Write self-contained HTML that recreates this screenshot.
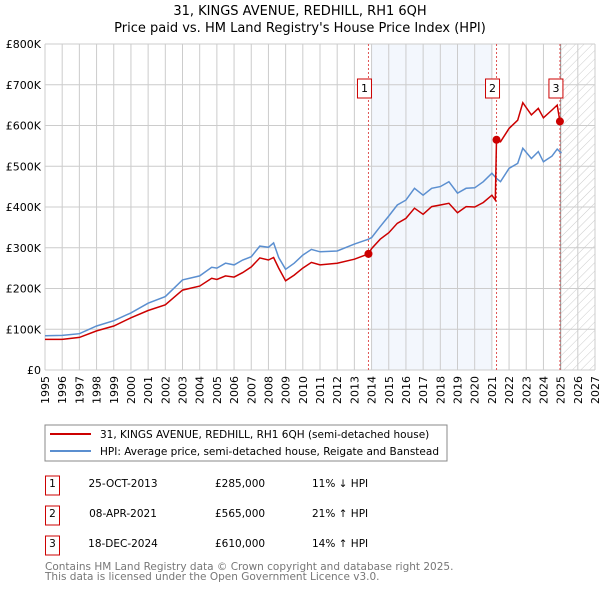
<!DOCTYPE html>
<html><head><meta charset="utf-8"><style>
body{margin:0;background:#fff;width:600px;height:590px;overflow:hidden;font-family:"DejaVu Sans","Liberation Sans",sans-serif}
</style></head><body>
<svg id="c" width="600" height="590" xmlns="http://www.w3.org/2000/svg" font-family="DejaVu Sans, Liberation Sans, sans-serif">
<defs><pattern id="h" width="6" height="6" patternUnits="userSpaceOnUse" patternTransform="rotate(45)"><line x1="0" y1="0" x2="0" y2="6" stroke="#ccc" stroke-width="1"/></pattern></defs>
<text x="300" y="15" text-anchor="middle" font-size="13">31, KINGS AVENUE, REDHILL, RH1 6QH</text>
<text x="300" y="32" text-anchor="middle" font-size="13">Price paid vs. HM Land Registry's House Price Index (HPI)</text>
<g id="plot"></g>
<rect x="45" y="425" width="402" height="36" fill="#fff" stroke="#888"/>
<line x1="50" y1="434" x2="91" y2="434" stroke="#cc0000" stroke-width="2"/>
<text x="100" y="438" font-size="10.5">31, KINGS AVENUE, REDHILL, RH1 6QH (semi-detached house)</text>
<line x1="50" y1="451" x2="91" y2="451" stroke="#5b8fd0" stroke-width="2"/>
<text x="100" y="455" font-size="10.5">HPI: Average price, semi-detached house, Reigate and Banstead</text>
<g font-size="10.5">
<rect x="45.5" y="476" width="14" height="19" fill="none" stroke="#cc0000"/><text x="52.5" y="487" text-anchor="middle">1</text>
<text x="123" y="487" text-anchor="middle">25-OCT-2013</text><text x="215" y="487">£285,000</text><text x="312" y="487">11% ↓ HPI</text>
<rect x="45.5" y="506" width="14" height="19" fill="none" stroke="#cc0000"/><text x="52.5" y="517" text-anchor="middle">2</text>
<text x="123" y="517" text-anchor="middle">08-APR-2021</text><text x="215" y="517">£565,000</text><text x="312" y="517">21% ↑ HPI</text>
<rect x="45.5" y="536" width="14" height="19" fill="none" stroke="#cc0000"/><text x="52.5" y="547" text-anchor="middle">3</text>
<text x="123" y="547" text-anchor="middle">18-DEC-2024</text><text x="215" y="547">£610,000</text><text x="312" y="547">14% ↑ HPI</text>
</g>
<text x="45" y="570" font-size="10.5" fill="#777">Contains HM Land Registry data © Crown copyright and database right 2025.</text>
<text x="45" y="580" font-size="10.5" fill="#777">This data is licensed under the Open Government Licence v3.0.</text>
</svg>
<script>
const yearTicks=[1995,1996,1997,1998,1999,2000,2001,2002,2003,2004,2005,2006,2007,2008,2009,2010,2011,2012,2013,2014,2015,2016,2017,2018,2019,2020,2021,2022,2023,2024,2025,2026,2027];
const valueTicks=[0,100000,200000,300000,400000,500000,600000,700000,800000];
const valueLabels=["£0","£100K","£200K","£300K","£400K","£500K","£600K","£700K","£800K"];
const hpiDates=[1995,1996,1997,1998,1999,2000,2001,2002,2003,2004,2004.7,2005,2005.5,2006,2006.5,2007,2007.5,2008,2008.3,2008.6,2009,2009.5,2010,2010.5,2011,2012,2013,2013.82,2014,2014.5,2015,2015.5,2016,2016.5,2017,2017.5,2018,2018.5,2019,2019.5,2020,2020.5,2021,2021.27,2021.5,2022,2022.5,2022.8,2023.3,2023.7,2024,2024.5,2024.8,2025.05];
const hpiValues=[84000,85000,89000,108000,121000,140000,164000,180000,221000,231000,252000,250000,262000,258000,270000,278000,304000,301000,312000,276000,247000,262000,282000,296000,290000,292000,309000,321000,325000,352000,378000,405000,417000,446000,429000,446000,450000,462000,434000,446000,447000,462000,483000,470000,462000,495000,507000,544000,519000,536000,511000,525000,542000,532000];
const priceDates=[1995,1996,1997,1998,1999,2000,2001,2002,2003,2004,2004.7,2005,2005.5,2006,2006.5,2007,2007.5,2008,2008.3,2008.6,2009,2009.5,2010,2010.5,2011,2012,2013,2013.82,2014,2014.5,2015,2015.5,2016,2016.5,2017,2017.5,2018,2018.5,2019,2019.5,2020,2020.5,2021,2021.2,2021.27,2021.5,2022,2022.5,2022.8,2023.3,2023.7,2024,2024.5,2024.8,2024.96,2025.05];
const priceValues=[75000,75000,80000,96000,108000,128000,146000,160000,196000,206000,225000,222000,231000,228000,239000,253000,275000,270000,276000,250000,219000,233000,250000,264000,258000,262000,272000,285000,298000,321000,337000,360000,372000,397000,382000,401000,405000,409000,386000,401000,400000,411000,429000,417000,565000,560000,593000,613000,656000,626000,642000,619000,638000,650000,610000,609000];
const saleDates=[2013.82,2021.27,2024.96];
const salePrices=[285000,565000,610000];
const saleLabels=["1","2","3"];
const NS="http://www.w3.org/2000/svg";
const L=45,R=595,T=44,B=370,x0=1995,x1=2027,vmax=800000;
const X=d=>L+(d-x0)/(x1-x0)*(R-L);
const Y=v=>B-v/vmax*(B-T);
const g=document.getElementById('plot');
function mk(t,a){const e=document.createElementNS(NS,t);for(const k in a)e.setAttribute(k,a[k]);g.appendChild(e);return e;}
let e;
e=mk('rect',{x:X(2014),y:T,width:X(2021)-X(2014),height:B-T,fill:'#eef3fc',opacity:0.7});


e=mk('rect',{x:X(2025),y:T,width:R-X(2025),height:B-T,fill:'url(#h)'});


yearTicks.forEach(yr=>{
 e=mk('line',{x1:X(yr),x2:X(yr),y1:T,y2:B,stroke:'#ccc','stroke-width':1});
 
 
 e=mk('text',{x:0,y:0,'font-size':11,'text-anchor':'end',transform:`translate(${X(yr)+4},${B+6}) rotate(-90)`});
 e.textContent=yr;
 
 
});
valueTicks.forEach((v,i)=>{
 e=mk('line',{x1:L,x2:R,y1:Y(v),y2:Y(v),stroke:'#ccc','stroke-width':1});
 
 
 e=mk('text',{x:L-4,y:Y(v)+4,'font-size':11,'text-anchor':'end'});
 e.textContent=valueLabels[i];
 
 
});
e=mk('line',{x1:X(2025),x2:X(2025),y1:T,y2:B,stroke:'#999','stroke-width':1});


saleDates.forEach((d,i)=>{
 e=mk('line',{x1:X(d),x2:X(d),y1:T,y2:B,stroke:'#e05555','stroke-dasharray':'2,2','stroke-width':1});
 
 
});
const pts=(ds,vs)=>ds.map((d,i)=>X(d).toFixed(1)+','+Y(vs[i]).toFixed(1)).join(' ');
e=mk('polyline',{points:pts(hpiDates,hpiValues),fill:'none',stroke:'#5b8fd0','stroke-width':1.5});


e=mk('polyline',{points:pts(priceDates,priceValues),fill:'none',stroke:'#cc0000','stroke-width':1.5});


saleDates.forEach((d,i)=>{
 e=mk('circle',{cx:X(d),cy:Y(salePrices[i]),r:4,fill:'#cc0000'});
 
 
 e=mk('rect',{x:X(d)-11,y:79,width:14,height:19,fill:'#fff',stroke:'#cc0000'});
 
 
 e=mk('text',{x:X(d)-4,y:92,'font-size':11,'text-anchor':'middle'});
 e.textContent=saleLabels[i];
 
 
});
</script>
</body></html>
